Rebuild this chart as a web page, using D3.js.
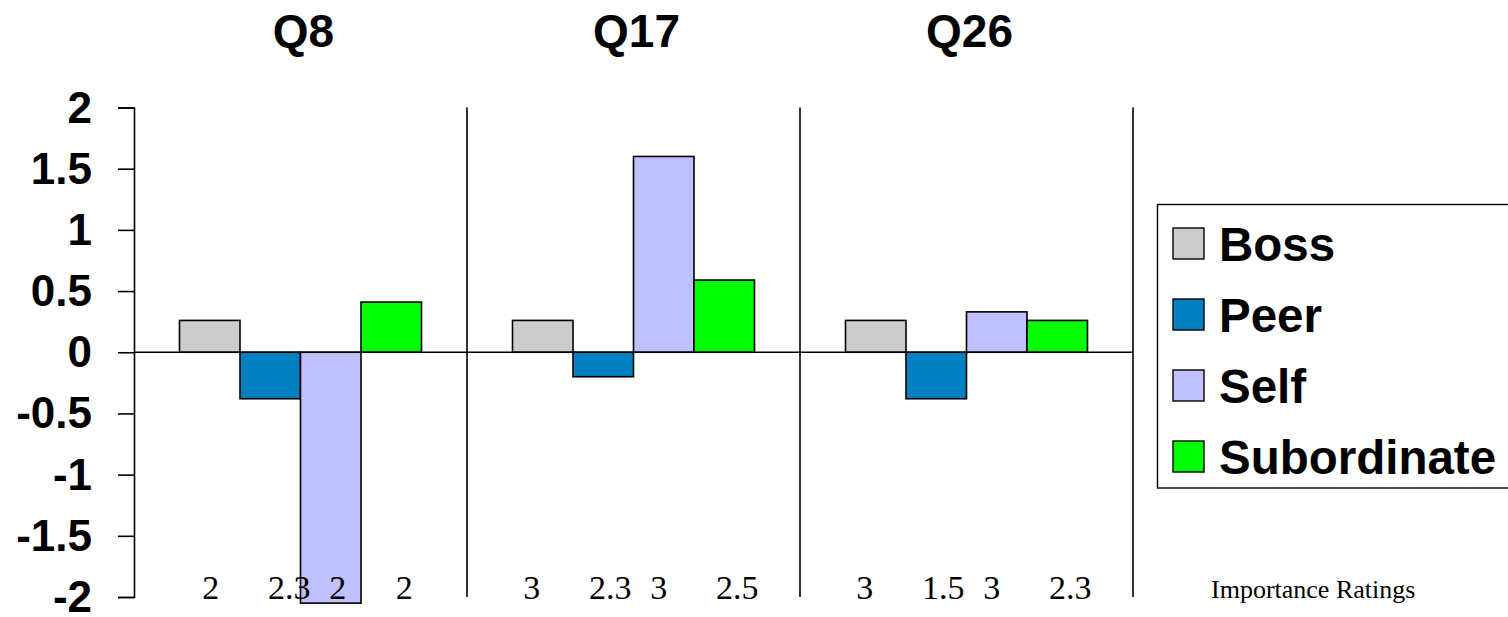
<!DOCTYPE html>
<html>
<head>
<meta charset="utf-8">
<script src="https://cdn.jsdelivr.net/npm/d3@7"></script>
<style>
  html, body { margin: 0; padding: 0; background: #ffffff; }
  svg { display: block; }
</style>
</head>
<body>
<svg id="chart" width="1508" height="617"></svg>
<script>
// Questions and the four rater groups
const questions = ["Q8", "Q17", "Q26"];
const series = ["Boss", "Peer", "Self", "Subordinate"];
const colors = ["#cccccc", "#0080c0", "#c0c0ff", "#00ff00"];

// Score differences per question, one array per rater
const boss = [0.26, 0.26, 0.26];
const peer = [-0.38, -0.2, -0.38];
const self = [-2.05, 1.6, 0.33];
const subordinate = [0.41, 0.59, 0.26];

// Importance ratings printed under each question
const ratingsQ8 = ["2", "2.3", "2", "2"];
const ratingsQ17 = ["3", "2.3", "3", "2.5"];
const ratingsQ26 = ["3", "1.5", "3", "2.3"];

const yTicks = [2, 1.5, 1, 0.5, 0, -0.5, -1, -1.5, -2];

const values = [boss, peer, self, subordinate];
const ratings = [ratingsQ8, ratingsQ17, ratingsQ26];

const svg = d3.select("#chart");
const plotLeft = 134, plotRight = 1133, plotTop = 107.5, plotBottom = 597;

const y = d3.scaleLinear().domain([-2, 2]).range([plotBottom, plotTop]);
const x0 = d3.scaleBand().domain(questions).range([plotLeft, plotRight]).paddingInner(0).paddingOuter(0);
const x1 = d3.scaleBand().domain(series).range([45.5, x0.bandwidth() - 45.5]).padding(0);

// rating label nudges relative to bar centres
const ratingShift = [-11, 7, -5, 13];
const groupShift = [12, 0, 0];

// Y axis
const yAxis = d3.axisLeft(y).tickValues(yTicks).tickSize(16).tickPadding(26)
  .tickFormat(d => String(d));
const ga = svg.append("g").attr("transform", `translate(${plotLeft},0)`).call(yAxis);
ga.select(".domain").attr("stroke", "#000").attr("stroke-width", 1.6);
ga.selectAll(".tick line").attr("stroke", "#000").attr("stroke-width", 1.6);
ga.selectAll(".tick text")
  .attr("font-family", "Liberation Sans, Arial, sans-serif")
  .attr("font-weight", "bold")
  .attr("font-size", 44)
  .attr("fill", "#000")
  .attr("dy", "0.33em");

// Group separators
svg.append("g").selectAll("line").data(questions).join("line")
  .attr("x1", d => x0(d) + x0.bandwidth()).attr("x2", d => x0(d) + x0.bandwidth())
  .attr("y1", plotTop).attr("y2", plotBottom)
  .attr("stroke", "#000").attr("stroke-width", 1.6);

// Bars
const groups = svg.append("g").selectAll("g").data(questions).join("g")
  .attr("transform", d => `translate(${x0(d)},0)`);

groups.selectAll("rect")
  .data((q, qi) => series.map((s, si) => ({ s, si, v: values[si][qi] })))
  .join("rect")
  .attr("x", d => x1(d.s))
  .attr("width", x1.bandwidth())
  .attr("y", d => y(Math.max(0, d.v)))
  .attr("height", d => Math.abs(y(d.v) - y(0)))
  .attr("fill", d => colors[d.si])
  .attr("stroke", "#000")
  .attr("stroke-width", 1.6);

// Zero line
svg.append("line")
  .attr("x1", plotLeft).attr("x2", plotRight)
  .attr("y1", y(0)).attr("y2", y(0))
  .attr("stroke", "#000").attr("stroke-width", 1.6);

// Question titles
svg.append("g").selectAll("text").data(questions).join("text")
  .attr("x", d => x0(d) + x0.bandwidth() / 2 + 3)
  .attr("y", 47)
  .attr("text-anchor", "middle")
  .attr("font-family", "Liberation Sans, Arial, sans-serif")
  .attr("font-weight", "bold")
  .attr("font-size", 46)
  .text(d => d);

// Importance ratings
groups.selectAll("text.rating")
  .data((q, qi) => ratings[qi].map((r, si) => ({ r, si, qi })))
  .join("text")
  .attr("class", "rating")
  .attr("x", d => x1(series[d.si]) + x1.bandwidth() / 2 + ratingShift[d.si] + (d.si < 3 ? groupShift[d.qi] : 0))
  .attr("y", 599)
  .attr("text-anchor", "middle")
  .attr("font-family", "Liberation Serif, Times New Roman, serif")
  .attr("font-size", 34)
  .text(d => d.r);

svg.append("text")
  .attr("x", 1211).attr("y", 598)
  .attr("font-family", "Liberation Serif, Times New Roman, serif")
  .attr("font-size", 26)
  .text("Importance Ratings");

// Legend
const legend = svg.append("g");
legend.append("rect")
  .attr("x", 1157.5).attr("y", 204.5).attr("width", 360).attr("height", 283.5)
  .attr("fill", "#fff").attr("stroke", "#000").attr("stroke-width", 1.4);
const items = legend.selectAll("g").data(series).join("g")
  .attr("transform", (d, i) => `translate(1173,${228 + i * 71})`);
items.append("rect")
  .attr("width", 31).attr("height", 31)
  .attr("fill", (d, i) => colors[i])
  .attr("stroke", "#000").attr("stroke-width", 1.4);
items.append("text")
  .attr("x", 46).attr("y", 33)
  .attr("font-family", "Liberation Sans, Arial, sans-serif")
  .attr("font-weight", "bold")
  .attr("font-size", 47.5)
  .text(d => d);
</script>
</body>
</html>
